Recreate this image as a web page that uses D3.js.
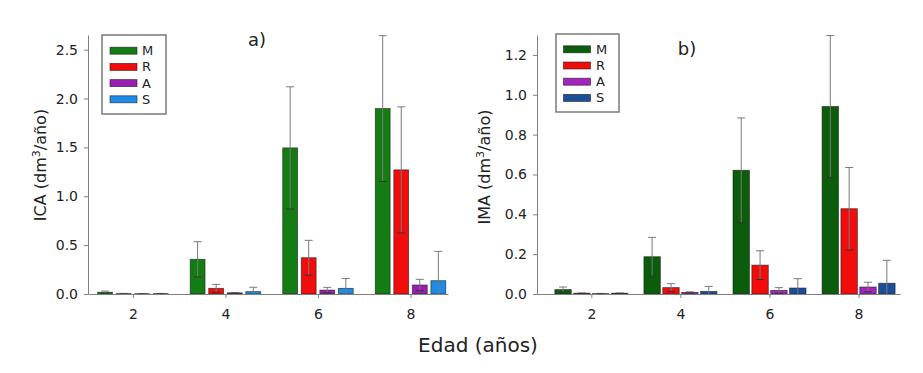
<!DOCTYPE html>
<html><head><meta charset="utf-8">
<script src="https://cdn.jsdelivr.net/npm/d3@7"></script>
<style>
html,body{margin:0;padding:0;background:#fff;}
text{font-family:"DejaVu Sans",Verdana,sans-serif;fill:#222;}
</style></head>
<body><svg id="c" width="923" height="373"></svg>
<script>
// ---------- data ----------
const ages = [2, 4, 6, 8];
const series = ["M", "R", "A", "S"];
const xTicks = [2, 4, 6, 8];

// Panel a) ICA (dm3/año)
const icaM = [0.018, 0.355, 1.495, 1.897];
const icaR = [0.004, 0.058, 0.371, 1.27];
const icaA = [0.003, 0.012, 0.04, 0.092];
const icaS = [0.004, 0.024, 0.058, 0.136];
const icaErrM = [0.012, 0.18, 0.625, 0.746];
const icaErrR = [0.002, 0.04, 0.178, 0.645];
const icaErrA = [0.002, 0.004, 0.028, 0.058];
const icaErrS = [0.002, 0.045, 0.10, 0.30];
const icaTicks = [0.0, 0.5, 1.0, 1.5, 2.0, 2.5];

// Panel b) IMA (dm3/año)
const imaM = [0.022, 0.187, 0.621, 0.941];
const imaR = [0.004, 0.032, 0.145, 0.428];
const imaA = [0.002, 0.008, 0.018, 0.035];
const imaS = [0.004, 0.013, 0.03, 0.054];
const imaErrM = [0.013, 0.097, 0.263, 0.356];
const imaErrR = [0.001, 0.02, 0.072, 0.207];
const imaErrA = [0.001, 0.003, 0.014, 0.024];
const imaErrS = [0.001, 0.025, 0.047, 0.115];
const imaTicks = [0.0, 0.2, 0.4, 0.6, 0.8, 1.0, 1.2];

const colorsA = ["#137d13", "#f20d0d", "#9a1fb0", "#1f8be8"];
const colorsB = ["#0b5c0b", "#f20d0d", "#a424c0", "#1c4f99"];

// ---------- drawing ----------
const svg = d3.select("#c");
const axisColor = "#808080";

function panel(cfg) {
  const g = svg.append("g");
  const x = d3.scaleLinear().domain(cfg.xDomain).range(cfg.xRange);
  const y = d3.scaleLinear().domain(cfg.yDomain).range([294, 35]);
  const sub = d3.scaleBand().domain(series).range([-cfg.groupW / 2, cfg.groupW / 2]).paddingInner(cfg.pad);

  const rows = [];
  series.forEach((s, si) => {
    ages.forEach((a, ai) => {
      rows.push({s, si, a, v: cfg.vals[si][ai], e: cfg.errs[si][ai]});
    });
  });

  // bars
  g.selectAll("rect.bar").data(rows).join("rect")
    .attr("class", "bar")
    .attr("x", d => x(d.a) + sub(d.s))
    .attr("width", sub.bandwidth())
    .attr("y", d => y(d.v))
    .attr("height", d => y(0) - y(d.v))
    .attr("fill", d => cfg.colors[d.si])
    .attr("stroke", "#1a1a1a").attr("stroke-width", 0.8).attr("stroke-opacity", 0.7);

  // error bars
  const cap = 4;
  const eg = g.selectAll("g.err").data(rows).join("g").attr("class", "err")
    .attr("stroke", "#7a7a7a").attr("stroke-width", 1);
  eg.append("line")
    .attr("x1", d => x(d.a) + sub(d.s) + sub.bandwidth() / 2)
    .attr("x2", d => x(d.a) + sub(d.s) + sub.bandwidth() / 2)
    .attr("y1", d => y(Math.max(0, d.v - d.e)))
    .attr("y2", d => y(d.v + d.e));
  eg.append("line")
    .attr("x1", d => x(d.a) + sub(d.s) + sub.bandwidth() / 2 - cap)
    .attr("x2", d => x(d.a) + sub(d.s) + sub.bandwidth() / 2 + cap)
    .attr("y1", d => y(d.v + d.e)).attr("y2", d => y(d.v + d.e));
  eg.filter(d => d.v - d.e > 0).append("line")
    .attr("x1", d => x(d.a) + sub(d.s) + sub.bandwidth() / 2 - cap)
    .attr("x2", d => x(d.a) + sub(d.s) + sub.bandwidth() / 2 + cap)
    .attr("y1", d => y(d.v - d.e)).attr("y2", d => y(d.v - d.e))
    .attr("stroke", "#333");

  // y axis
  const ya = g.append("g").attr("transform", `translate(${cfg.xRange[0]},0)`)
    .call(d3.axisLeft(y).tickValues(cfg.yTicks).tickFormat(d3.format(".1f")).tickSize(4).tickPadding(6).tickSizeOuter(0));
  ya.select(".domain").attr("stroke", axisColor);
  ya.selectAll(".tick line").attr("stroke", axisColor);
  ya.selectAll(".tick text").style("font-size", "14px").style("fill", "#222");

  // x axis
  const xa = g.append("g").attr("transform", "translate(0,294)")
    .call(d3.axisBottom(x).tickValues(xTicks).tickFormat(d3.format("d")).tickSize(4).tickPadding(11).tickSizeOuter(0));
  xa.select(".domain").attr("stroke", axisColor);
  xa.selectAll(".tick line").attr("stroke", axisColor);
  xa.selectAll(".tick text").style("font-size", "14px").style("fill", "#222");

  // y title
  const t = g.append("text")
    .attr("transform", `translate(${cfg.titleX},${cfg.titleY}) rotate(-90)`)
    .attr("text-anchor", "middle").style("font-size", "16px");
  t.append("tspan").text(cfg.yLabel + " (dm");
  t.append("tspan").attr("dy", -6).style("font-size", "11px").text("3");
  t.append("tspan").attr("dy", 6).text("/año)");

  // panel label
  g.append("text").attr("x", cfg.lblX).attr("y", cfg.lblY).attr("text-anchor", "middle")
    .style("font-size", "18px").text(cfg.label);

  // legend
  const L = cfg.legend;
  g.append("rect").attr("x", L.x).attr("y", L.y).attr("width", L.w).attr("height", L.h)
    .attr("fill", "#fff").attr("stroke", "#7a7a7a").attr("stroke-width", 1.5);
  const li = g.selectAll("g.li").data(series).join("g").attr("class", "li")
    .attr("transform", (d, i) => `translate(0,${L.y0 + i * 16.2})`);
  li.append("rect").attr("x", L.sx).attr("y", -3.5).attr("width", 27).attr("height", 7)
    .attr("fill", (d, i) => cfg.colors[i]).attr("stroke", "#1a1a1a").attr("stroke-width", 0.8).attr("stroke-opacity", 0.7);
  li.append("text").attr("x", L.tx).attr("y", 4.5).style("font-size", "13px").text(d => d);
}

panel({
  xDomain: [1.03, 8.81], xRange: [88, 448], yDomain: [0, 2.65],
  vals: [icaM, icaR, icaA, icaS], errs: [icaErrM, icaErrR, icaErrA, icaErrS],
  yTicks: icaTicks, colors: colorsA, groupW: 70.5, pad: 0.2,
  yLabel: "ICA", titleX: 46, titleY: 165, label: "a)", lblX: 257, lblY: 46,
  legend: {x: 102, y: 35, w: 64, h: 79, y0: 50.7, sx: 110, tx: 142}
});
panel({
  xDomain: [0.78, 8.93], xRange: [537, 900], yDomain: [0, 1.3],
  vals: [imaM, imaR, imaA, imaS], errs: [imaErrM, imaErrR, imaErrA, imaErrS],
  yTicks: imaTicks, colors: colorsB, groupW: 73, pad: 0.13,
  yLabel: "IMA", titleX: 490, titleY: 167, label: "b)", lblX: 687, lblY: 55,
  legend: {x: 556, y: 34, w: 63, h: 78, y0: 49.3, sx: 563.5, tx: 596}
});

svg.append("text").attr("x", 478).attr("y", 352).attr("text-anchor", "middle")
  .style("font-size", "20px").text("Edad (años)");
</script></body></html>
